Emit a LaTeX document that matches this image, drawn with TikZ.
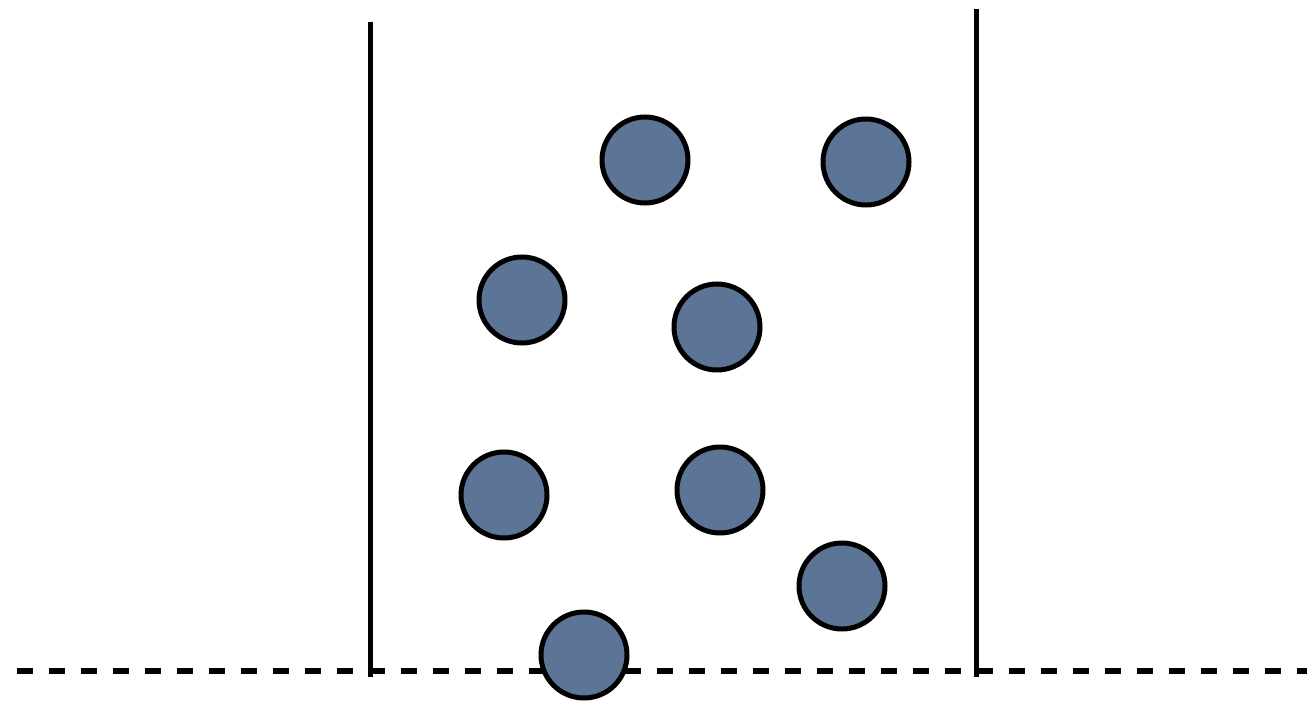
\documentclass[tikz,border=0pt]{standalone}
\definecolor{ball}{RGB}{92,116,150}
\begin{document}
\begin{tikzpicture}[x=1pt,y=-1pt,
  wall/.style={line width=5pt},
  floor/.style={line width=5.5pt,dash pattern=on 16pt off 16pt},
  ball/.style={circle,draw=black,line width=5pt,fill=ball,minimum size=86pt,inner sep=0pt}]
\useasboundingbox (0,0) rectangle (1307,703);
\coordinate (fl) at (17,671);
\coordinate (fr) at (1307,671);
\draw[floor] (fl) -- (fr);
\coordinate (lt) at (370,22);
\coordinate (lb) at (370,677);
\coordinate (rt) at (976,9);
\coordinate (rb) at (976,677);
\draw[wall] (lt) -- (lb);
\draw[wall] (rt) -- (rb);
\node[ball] (b1) at (645,160) {};
\node[ball] (b2) at (866,162) {};
\node[ball] (b3) at (522,300) {};
\node[ball] (b4) at (717,327) {};
\node[ball] (b5) at (504,495) {};
\node[ball] (b6) at (720,490) {};
\node[ball] (b7) at (842,586) {};
\node[ball] (b8) at (584,655) {};
\end{tikzpicture}
\end{document}
